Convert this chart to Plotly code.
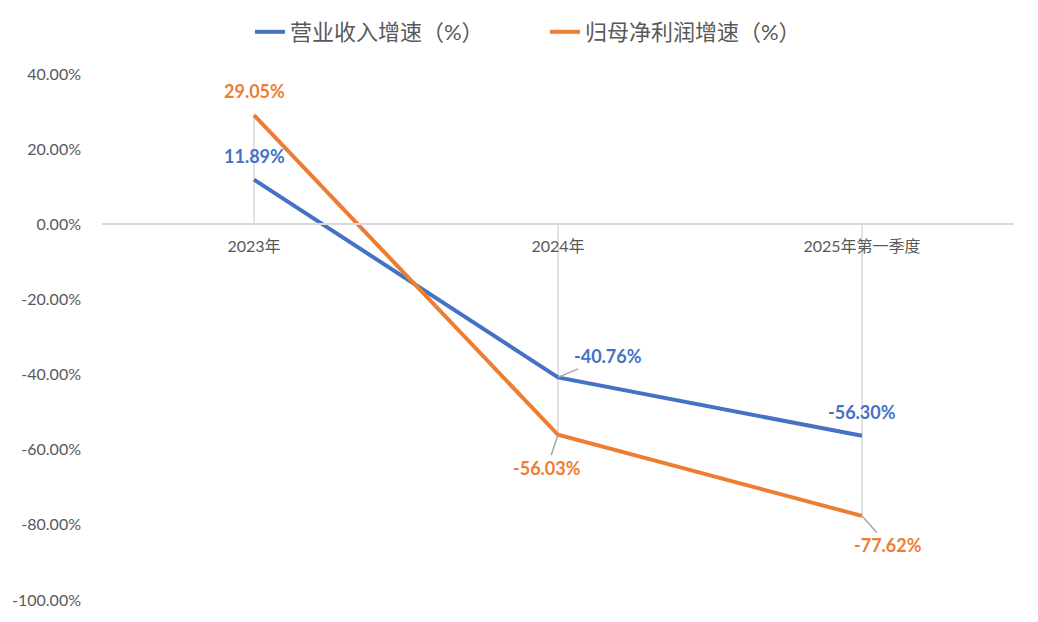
import plotly.graph_objects as go

categories = ["2023年", "2024年", "2025年第一季度"]
revenue_growth = [11.89, -40.76, -56.30]
profit_growth = [29.05, -56.03, -77.62]
series_names = ["营业收入增速（%）", "归母净利润增速（%）"]
y_ticks = [40, 20, 0, -20, -40, -60, -80, -100]

BLUE = "#4472C4"
ORANGE = "#ED7D31"
GRAY_TXT = "#595959"
FONT = "Lato, Noto Sans CJK SC, sans-serif"

fig = go.Figure()

# drop lines from axis to the extreme point of each category
dx, dy = [], []
for c, a, b in zip(categories, revenue_growth, profit_growth):
    ext = max(a, b) if max(a, b) > 0 else min(a, b)
    dx += [c, c, None]
    dy += [0, ext, None]
fig.add_trace(go.Scatter(x=dx, y=dy, mode="lines", line=dict(color="#D9D9D9", width=1.5),
                         showlegend=False, hoverinfo="skip"))

fig.add_trace(go.Scatter(x=categories, y=revenue_growth, mode="lines", name=series_names[0],
                         line=dict(color=BLUE, width=4)))
fig.add_trace(go.Scatter(x=categories, y=profit_growth, mode="lines", name=series_names[1],
                         line=dict(color=ORANGE, width=4)))

def lab(v):
    return f"{v:.2f}%"

lf = dict(family=FONT, size=18, weight="bold")
# revenue labels
fig.add_annotation(x=categories[0], y=revenue_growth[0], text=lab(revenue_growth[0]), showarrow=False,
                   yshift=24, font=dict(lf, color=BLUE))
fig.add_annotation(x=categories[1], y=revenue_growth[1], text=lab(revenue_growth[1]), showarrow=True,
                   ax=50, ay=-21, arrowhead=0, arrowwidth=1.5, arrowcolor="#A6A6A6",
                   font=dict(lf, color=BLUE))
fig.add_annotation(x=categories[2], y=revenue_growth[2], text=lab(revenue_growth[2]), showarrow=False,
                   yshift=24, font=dict(lf, color=BLUE))
# profit labels
fig.add_annotation(x=categories[0], y=profit_growth[0], text=lab(profit_growth[0]), showarrow=False,
                   yshift=24, font=dict(lf, color=ORANGE))
fig.add_annotation(x=categories[1], y=profit_growth[1], text=lab(profit_growth[1]), showarrow=True,
                   ax=-11, ay=33, arrowhead=0, arrowwidth=1.5, arrowcolor="#A6A6A6",
                   font=dict(lf, color=ORANGE))
fig.add_annotation(x=categories[2], y=profit_growth[2], text=lab(profit_growth[2]), showarrow=True,
                   ax=26, ay=29, arrowhead=0, arrowwidth=1.5, arrowcolor="#A6A6A6",
                   font=dict(lf, color=ORANGE))

fig.update_layout(
    width=1038, height=622,
    margin=dict(l=94, r=32, t=66, b=30),
    paper_bgcolor="white", plot_bgcolor="white",
    font=dict(family=FONT, color=GRAY_TXT),
    showlegend=True,
    legend=dict(orientation="h", xref="container", yref="container",
                x=0.5173, xanchor="center", y=0.9614, yanchor="middle",
                font=dict(size=22, color=GRAY_TXT, family=FONT),
                entrywidth=250, entrywidthmode="pixels",
                bgcolor="rgba(0,0,0,0)"),
    xaxis=dict(type="category", range=[-0.5, 2.5], anchor="free", position=100 / 140,
               showline=True, linecolor="#D9D9D9", linewidth=1.5, showgrid=False,
               ticks="", tickfont=dict(size=16, color=GRAY_TXT), ticklabelstandoff=8,
               zeroline=False, automargin=False),
    yaxis=dict(range=[-100, 40], tickvals=y_ticks, ticktext=[f"{v:.2f}%" for v in y_ticks],
               showgrid=False, zeroline=False, showline=False, ticks="",
               tickfont=dict(size=16, color=GRAY_TXT), ticklabelstandoff=20,
               automargin=False),
)

fig.write_html("out.html")
